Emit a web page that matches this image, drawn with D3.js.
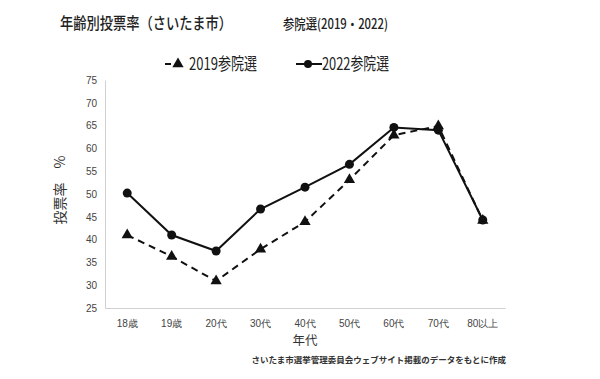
<!DOCTYPE html>
<html>
<head>
<meta charset="utf-8">
<script src="https://cdn.jsdelivr.net/npm/d3@7"></script>
<style>
  body { margin: 0; background: #fff; }
  svg { font-family: "Noto Sans CJK JP", "Noto Sans", sans-serif; }
</style>
</head>
<body>
<div id="chart"></div>
<script>
// age groups on the x axis
var ageGroups = ['18歳', '19歳', '20代', '30代', '40代', '50代', '60代', '70代', '80以上'];
// turnout (%)
var turnout2019 = [41.0, 36.3, 30.9, 37.9, 43.9, 53.1, 62.9, 64.9, 44.2];
var turnout2022 = [50.2, 41.0, 37.5, 46.7, 51.5, 56.5, 64.6, 64.0, 44.3];
var yTicks = [25, 30, 35, 40, 45, 50, 55, 60, 65, 70, 75];

var width = 600, height = 379;
var svg = d3.select('#chart').append('svg')
    .attr('width', width)
    .attr('height', height);

var x = d3.scaleBand().domain(ageGroups).range([105, 505]);
var y = d3.scaleLinear().domain([25, 75]).range([308, 80]);

// titles
svg.append('text')
    .attr('x', 60).attr('y', 29)
    .attr('font-size', 16).attr('font-weight', 500).attr('fill', '#222')
    .attr('textLength', 172).attr('lengthAdjust', 'spacingAndGlyphs')
    .text('年齢別投票率（さいたま市）');
svg.append('text')
    .attr('x', 283).attr('y', 28.5)
    .attr('font-size', 14).attr('font-weight', 500).attr('fill', '#222')
    .attr('textLength', 105).attr('lengthAdjust', 'spacingAndGlyphs')
    .text('参院選(2019・2022)');

// axes
var yAxis = svg.append('g')
    .attr('transform', 'translate(105,0)')
    .call(d3.axisLeft(y).tickValues(yTicks).tickSize(0).tickPadding(8));
var xAxis = svg.append('g')
    .attr('transform', 'translate(0,308)')
    .call(d3.axisBottom(x).tickSize(0).tickPadding(12));
[yAxis, xAxis].forEach(function (g) {
    g.select('.domain').attr('stroke', '#d0d0d0');
    g.selectAll('text').attr('fill', '#444').attr('font-size', 10);
});

// axis titles
svg.append('text')
    .attr('transform', 'translate(65,190) rotate(-90)')
    .attr('text-anchor', 'middle')
    .attr('font-size', 14).attr('fill', '#333')
    .text('投票率　%');
svg.append('text')
    .attr('x', 305).attr('y', 345)
    .attr('text-anchor', 'middle')
    .attr('font-size', 12.5).attr('fill', '#333')
    .text('年代');
svg.append('text')
    .attr('x', 506).attr('y', 363)
    .attr('text-anchor', 'end')
    .attr('font-size', 8.5).attr('font-weight', 'bold').attr('fill', '#333')
    .text('さいたま市選挙管理委員会ウェブサイト掲載のデータをもとに作成');

var line = d3.line()
    .x(function (d, i) { return x(ageGroups[i]) + x.bandwidth() / 2; })
    .y(function (d) { return y(d); });

var tri = d3.symbol().type(d3.symbolTriangle).size(55);

// 2019 dashed with triangles
svg.append('path')
    .attr('d', line(turnout2019))
    .attr('fill', 'none').attr('stroke', '#111')
    .attr('stroke-width', 2).attr('stroke-dasharray', '7,5');
svg.selectAll('.tri').data(turnout2019).enter().append('path')
    .attr('class', 'tri')
    .attr('d', tri)
    .attr('transform', function (d, i) {
        return 'translate(' + (x(ageGroups[i]) + x.bandwidth() / 2) + ',' + y(d) + ')';
    })
    .attr('fill', '#111');

// 2022 solid with circles
svg.append('path')
    .attr('d', line(turnout2022))
    .attr('fill', 'none').attr('stroke', '#111')
    .attr('stroke-width', 2);
svg.selectAll('.dot').data(turnout2022).enter().append('circle')
    .attr('class', 'dot')
    .attr('cx', function (d, i) { return x(ageGroups[i]) + x.bandwidth() / 2; })
    .attr('cy', function (d) { return y(d); })
    .attr('r', 4.5)
    .attr('fill', '#111');

// legend
var lg = svg.append('g');
lg.append('line').attr('x1', 165).attr('x2', 182).attr('y1', 64).attr('y2', 64)
    .attr('stroke', '#111').attr('stroke-width', 2).attr('stroke-dasharray', '6,4');
lg.append('path').attr('d', tri).attr('transform', 'translate(178,64)').attr('fill', '#111');
lg.append('text').attr('x', 189).attr('y', 70).attr('font-size', 17).attr('fill', '#222')
    .attr('textLength', 68).attr('lengthAdjust', 'spacingAndGlyphs')
    .text('2019参院選');
lg.append('line').attr('x1', 296).attr('x2', 322).attr('y1', 64).attr('y2', 64)
    .attr('stroke', '#111').attr('stroke-width', 2);
lg.append('circle').attr('cx', 308).attr('cy', 64).attr('r', 4).attr('fill', '#111');
lg.append('text').attr('x', 322).attr('y', 70).attr('font-size', 17).attr('fill', '#222')
    .attr('textLength', 67).attr('lengthAdjust', 'spacingAndGlyphs')
    .text('2022参院選');
</script>
</body>
</html>
